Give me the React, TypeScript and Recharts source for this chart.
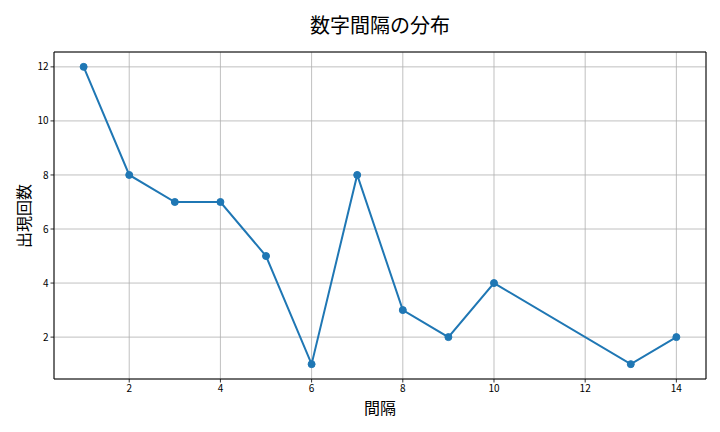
import React from "react";
import { LineChart, Line, XAxis, YAxis, CartesianGrid, ReferenceArea } from "recharts";

const intervals = [1, 2, 3, 4, 5, 6, 7, 8, 9, 10, 13, 14];
const counts = [12, 8, 7, 7, 5, 1, 8, 3, 2, 4, 1, 2];
const xTicks = [2, 4, 6, 8, 10, 12, 14];
const yTicks = [2, 4, 6, 8, 10, 12];

const data = intervals.map((x, i) => ({ x, y: counts[i] }));

const W = 720;
const H = 432;
const M = { top: 52, right: 14, bottom: 0, left: 0 };
const YW = 54;
const XH = 53;
const JP = "'Noto Sans CJK JP', 'Noto Sans', sans-serif";
const TICKFONT = "'Noto Sans CJK JP', 'DejaVu Sans', sans-serif";

export default function App() {
  const plotLeft = M.left + YW;
  const plotRight = W - M.right;
  const plotTop = M.top;
  const plotBottom = H - M.bottom - XH;
  return (
    <div style={{ position: "absolute", left: 0, top: 0, width: W, height: H, background: "#fff" }}>
      <LineChart width={W} height={H} data={data} margin={M}>
        <CartesianGrid stroke="#b0b0b0" strokeWidth={0.8} vertical horizontal />
        <XAxis
          dataKey="x"
          type="number"
          domain={[0.35, 14.65]}
          ticks={xTicks}
          allowDataOverflow
          height={XH}
          tickLine={{ stroke: "#000", strokeWidth: 0.8 }}
          tickSize={3.5}
          axisLine={false}
          tick={{ fill: "#000", fontSize: 10, fontFamily: TICKFONT }}
        />
        <YAxis
          dataKey="y"
          type="number"
          domain={[0.45, 12.55]}
          ticks={yTicks}
          allowDataOverflow
          width={YW}
          tickLine={{ stroke: "#000", strokeWidth: 0.8 }}
          tickSize={3.5}
          axisLine={false}
          tick={{ fill: "#000", fontSize: 10, fontFamily: TICKFONT }}
        />
        <ReferenceArea
          x1={0.35}
          x2={14.65}
          y1={0.45}
          y2={12.55}
          fill="none"
          fillOpacity={0}
          stroke="#000"
          strokeWidth={1}
          ifOverflow="visible"
        />
        <Line
          type="linear"
          dataKey="y"
          stroke="#1f77b4"
          strokeWidth={2}
          dot={{ r: 3.5, fill: "#1f77b4", stroke: "#1f77b4", strokeWidth: 1 }}
          activeDot={false}
          isAnimationActive={false}
        />
      </LineChart>
      <div
        style={{
          position: "absolute",
          left: plotLeft,
          width: plotRight - plotLeft,
          top: 10,
          textAlign: "center",
          fontFamily: JP,
          fontSize: 20,
          fontWeight: 400,
          lineHeight: "30px",
          color: "#000",
        }}
      >
        数字間隔の分布
      </div>
      <div
        style={{
          position: "absolute",
          left: plotLeft,
          width: plotRight - plotLeft,
          top: 396,
          textAlign: "center",
          fontFamily: JP,
          fontSize: 16,
          lineHeight: "22px",
          color: "#000",
        }}
      >
        間隔
      </div>
      <div
        style={{
          position: "absolute",
          left: 23,
          top: (plotTop + plotBottom) / 2,
          transform: "translate(-50%, -50%) rotate(-90deg)",
          fontFamily: JP,
          fontSize: 16,
          lineHeight: "22px",
          whiteSpace: "nowrap",
          color: "#000",
        }}
      >
        出現回数
      </div>
    </div>
  );
}
